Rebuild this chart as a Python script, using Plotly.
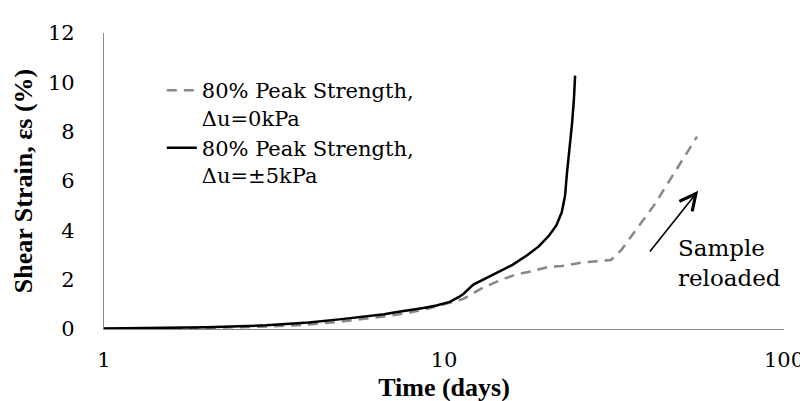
import math
import plotly.graph_objects as go

# Series: 80% Peak Strength, Δu=0kPa (dashed grey)
t_const = [1, 2, 3, 4, 5, 6, 7, 8, 9, 10, 11, 11.4, 12, 13, 14.5, 16.2, 18, 20.4, 22.2, 25.4, 31, 33.2, 41.4, 55.5]
e_const = [0.01, 0.04, 0.1, 0.18, 0.3, 0.42, 0.55, 0.68, 0.83, 1.0, 1.15, 1.22, 1.4, 1.67, 1.95, 2.2, 2.33, 2.53, 2.55, 2.69, 2.8, 3.2, 5.0, 7.8]

# Series: 80% Peak Strength, Δu=±5kPa (solid black)
t_cyc = [1, 1.5, 2, 3, 4, 5, 6, 6.67, 7.13, 8, 8.7, 9.5, 10.4, 11.0, 11.4, 12.2, 13.9, 15.9, 17.6, 19.0, 20.4, 21.4, 22.2, 22.7, 23.0, 23.4, 23.8, 24.1, 24.3]
e_cyc = [0.02, 0.04, 0.07, 0.15, 0.26, 0.4, 0.52, 0.6, 0.67, 0.76, 0.85, 0.95, 1.1, 1.28, 1.42, 1.8, 2.2, 2.6, 3.0, 3.35, 3.8, 4.2, 4.73, 5.4, 6.33, 7.3, 8.33, 9.3, 10.27]

name_const = "80% Peak Strength,<br>Δu=0kPa"
name_cyc = "80% Peak Strength,<br>Δu=±5kPa"

x_ticks = [1, 10, 100]
y_ticks = [0, 2, 4, 6, 8, 10, 12]

# Annotation arrow (Sample reloaded)
arrow_tail = (40.0, 3.08)
arrow_head = (55.9, 5.6)
label_pos = (48.0, 3.9)

REG = "DejaVu Serif"
BOLD = "Liberation Serif"

fig = go.Figure()
fig.add_trace(go.Scatter(
    x=t_const, y=e_const, mode="lines", name=name_const,
    line=dict(color="#878787", width=2.5, dash="10px,7px"),
))
fig.add_trace(go.Scatter(
    x=t_cyc, y=e_cyc, mode="lines", name=name_cyc,
    line=dict(color="#000000", width=2.5),
))

fig.add_annotation(
    x=math.log10(arrow_head[0]), y=arrow_head[1],
    ax=math.log10(arrow_tail[0]), ay=arrow_tail[1],
    xref="x", yref="y", axref="x", ayref="y",
    text="", showarrow=True, arrowhead=5, arrowsize=2, arrowwidth=1.6,
    arrowcolor="#000000",
)
fig.add_annotation(
    x=math.log10(label_pos[0]), y=label_pos[1], xref="x", yref="y",
    text="Sample<br>reloaded", showarrow=False, xanchor="left", yanchor="top",
    align="left", font=dict(family=REG, size=23, color="#000000"),
)

fig.update_layout(
    width=808, height=401,
    margin=dict(l=96, r=22, t=25, b=76),
    paper_bgcolor="white", plot_bgcolor="white",
    font=dict(family=REG, size=21, color="#000000"),
    showlegend=True,
    legend=dict(
        x=0.085, y=0.875, xanchor="left", yanchor="top",
        bgcolor="rgba(0,0,0,0)", font=dict(family=REG, size=21, color="#000000"),
        valign="top", tracegroupgap=0,
    ),
)
fig.update_xaxes(
    type="log", range=[0, 2], tickvals=x_ticks, ticktext=[str(v) for v in x_ticks],
    showgrid=False, zeroline=False, showline=True, linecolor="#898989", linewidth=1.3,
    ticks="", ticklabelstandoff=12, tickfont=dict(family=REG, size=21),
    title=dict(text="<b>Time (days)</b>", font=dict(family=BOLD, size=26), standoff=6),
)
fig.update_yaxes(
    range=[0, 12], tickvals=y_ticks, showgrid=False, zeroline=False,
    showline=True, linecolor="#898989", linewidth=1.3, ticks="", ticklabelstandoff=24,
    tickfont=dict(family=REG, size=21),
    title=dict(text="<b>Shear Strain, εs (%)</b>", font=dict(family=BOLD, size=26), standoff=7),
)

fig.write_html("out.html")
